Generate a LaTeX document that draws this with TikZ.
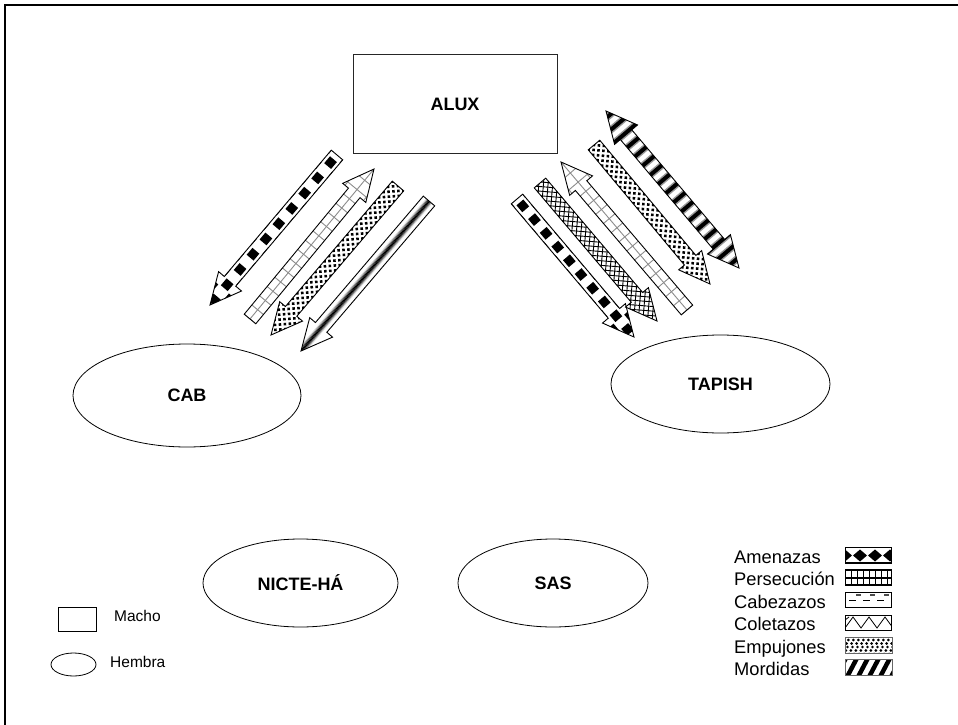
\documentclass[tikz,border=0pt]{standalone}
\usepackage{fontspec}
\setmainfont{Liberation Sans}
\usetikzlibrary{calc,shapes.geometric}

% block-arrow geometry (local frame: arrow runs along +x)
\newcommand\hw{7.5} % half shaft width
\newcommand\hh{15}  % half head width
\newcommand\hl{31}  % head length

% local frame from one named coordinate to another
\newcommand\arrowframe[2]{%
  \pgfpointdiff{\pgfpointanchor{#1}{center}}{\pgfpointanchor{#2}{center}}%
  \pgfgetlastxy{\adx}{\ady}%
  \pgfmathsetmacro\aang{atan2(\ady,\adx)}%
  \pgfmathsetmacro\alen{veclen(\adx,\ady)}%
}
\newcommand\singlepath{(0,-\hw) -- (\alen-\hl,-\hw) -- (\alen-\hl,-\hh) -- (\alen,0)
  -- (\alen-\hl,\hh) -- (\alen-\hl,\hw) -- (0,\hw) -- cycle}
\newcommand\doublepath{(0,0) -- (\hl,-\hh) -- (\hl,-\hw) -- (\alen-\hl,-\hw)
  -- (\alen-\hl,-\hh) -- (\alen,0) -- (\alen-\hl,\hh) -- (\alen-\hl,\hw)
  -- (\hl,\hw) -- (\hl,\hh) -- cycle}

% #1 from, #2 to, #3 outline path macro, #4 filling
\newcommand\blockarrow[4]{%
  \arrowframe{#1}{#2}%
  \begin{scope}[shift={(#1)}, rotate=\aang]
    \begin{scope}
      \clip #3;
      #4
    \end{scope}
    \draw[arrowline] #3;
  \end{scope}
}

% fillings drawn in the arrow's own frame
\newcommand\fillsquares[1]{%
  \foreach \i in {0,...,18}{%
    \fill ({\i*#1+#1/2-4.5},-4.5) rectangle +(9,9);
    \fill ({\i*#1-4.5},-16) rectangle +(9,9);
    \fill ({\i*#1-4.5},7) rectangle +(9,9);}}
\newcommand\fillladder{%
  \foreach \i in {0,...,24}{\draw[ladder] (\i*12,-20) -- (\i*12,20);}
  \foreach \y in {-12,0,12}{\draw[ladder] (-5,\y) -- (290,\y);}}
\newcommand\filldots{%
  \foreach \i in {0,...,42}{\foreach \j in {-3,...,2}{%
    \fill (\i*7,\j*7) circle (1.8);
    \fill (\i*7+3.5,\j*7+3.5) circle (1.8);}}}
\newcommand\fillmetal{%
  \foreach \y in {-16,...,15}{%
    \pgfmathtruncatemacro\k{max(0,100-max(0,abs(\y+0.5)-0.6)*30)}%
    \fill[black!\k] (-5,\y) rectangle (290,\y+1.05);}}
\newcommand\fillhatch{%
  \foreach \i in {-12,...,50}{%
    \draw[hatch] (\i*6.5,-18) -- ++(36,36);
    \draw[hatch] (\i*6.5,18) -- ++(36,-36);}}
\newcommand\fillbands{%
  \foreach \i in {0,...,26}{%
    \fill[black!40] (\i*12+2,-18) rectangle +(7,36);
    \fill (\i*12+3.5,-18) rectangle +(4,36);}}

\tikzset{
  labelfont/.style={font=\fontsize{18}{21}\selectfont\bfseries},
  malebox/.style={draw=black!85, line width=1pt, inner sep=0pt, labelfont},
  femalenode/.style={ellipse, draw, line width=0.8pt, inner sep=0pt, labelfont},
  arrowline/.style={draw=black, line width=0.9pt, line join=miter},
  ladder/.style={draw=black!45, line width=0.9pt},
  hatch/.style={draw=black, line width=0.9pt},
  legtext/.style={anchor=base west, inner sep=0pt, font=\fontsize{18.3}{21}\selectfont},
  keytext/.style={anchor=west, inner sep=0pt, font=\fontsize{15.5}{18}\selectfont},
  swatch/.style={draw, line width=0.8pt, minimum width=46, minimum height=15,
    inner sep=0pt, anchor=south west},
}

\begin{document}
\begin{tikzpicture}[x=1pt, y=-1pt]
\useasboundingbox (0,0) rectangle (958,725);
\fill[white] (0,0) rectangle (958,725);

% outer frame
\draw[line width=2pt] (958,5) -- (5,5) -- (5,725);

% individuals
\node[malebox, minimum width=204, minimum height=98] (alux) at (455,104) {ALUX};
\node[femalenode, minimum width=228, minimum height=103] (cab) at (187,395.5) {CAB};
\node[femalenode, minimum width=219, minimum height=98] (tapish) at (720.5,384) {TAPISH};
\node[femalenode, minimum width=195, minimum height=88] (nicte) at (300.5,583) {NICTE-HÁ};
\node[femalenode, minimum width=190, minimum height=88] (sas) at (553,583) {SAS};

% arrow end points
\coordinate (a1s) at (337,155); \coordinate (a1e) at (210,305);
\coordinate (a2s) at (250,319); \coordinate (a2e) at (374,169);
\coordinate (a3s) at (398,186); \coordinate (a3e) at (271,335);
\coordinate (a4s) at (429,201); \coordinate (a4e) at (301,351);
\coordinate (b1s) at (517,199); \coordinate (b1e) at (634,337);
\coordinate (b2s) at (540,183); \coordinate (b2e) at (657,321);
\coordinate (b3s) at (687,310); \coordinate (b3e) at (561,162);
\coordinate (b4s) at (594,145); \coordinate (b4e) at (710,284);
\coordinate (b5s) at (606,111); \coordinate (b5e) at (739,268);

% interactions ALUX - CAB
\blockarrow{a1s}{a1e}{\singlepath}{\fillsquares{20}}
\blockarrow{a2s}{a2e}{\singlepath}{\fillladder}
\blockarrow{a3s}{a3e}{\singlepath}{\filldots}
\blockarrow{a4s}{a4e}{\singlepath}{\fillmetal}

% interactions ALUX - TAPISH
\blockarrow{b1s}{b1e}{\singlepath}{\fillsquares{18}}
\blockarrow{b2s}{b2e}{\singlepath}{\fillhatch}
\blockarrow{b3s}{b3e}{\singlepath}{\fillladder}
\blockarrow{b4s}{b4e}{\singlepath}{\filldots}
\blockarrow{b5s}{b5e}{\doublepath}{\fillbands}

% sex key
\node[draw, line width=0.8pt, minimum width=38, minimum height=24, inner sep=0pt] (kmale) at (77,619) {};
\node[keytext] (kmaletext) at (114,616) {Macho};
\node[ellipse, draw, line width=0.8pt, minimum width=45, minimum height=23, inner sep=0pt] (kfemale) at (73.5,664.5) {};
\node[keytext] (kfemaletext) at (110,662) {Hembra};

% behaviour key
\node[legtext] (l1) at (734,563) {Amenazas};
\node[legtext] (l2) at (734,585.5) {Persecución};
\node[legtext] (l3) at (734,608) {Cabezazos};
\node[legtext] (l4) at (734,630.5) {Coletazos};
\node[legtext] (l5) at (734,653) {Empujones};
\node[legtext] (l6) at (734,675) {Mordidas};

\node[swatch] (s1) at (845,563) {};
\node[swatch, line width=1.3pt] (s2) at (845,585.5) {};
\node[swatch] (s3) at (845,608) {};
\node[swatch] (s4) at (845,630.5) {};
\node[swatch, draw=none] (s5) at (845,653) {};
\node[swatch, draw=none] (s6) at (845,675) {};

% swatch fillings
\begin{scope}
  \clip (s1.south west) rectangle (s1.north east);
  \foreach \x in {838,853,868,883,898}
    \fill (\x,555.5) -- ++(7,-6) -- ++(7,6) -- ++(-7,6) -- cycle;
\end{scope}
\draw[line width=0.8pt] (s1.south west) rectangle (s1.north east);

\begin{scope}
  \clip (s2.south west) rectangle (s2.north east);
  \foreach \x in {851.5,857.5,...,890}
    \draw[line width=1.3pt] (\x,570) -- (\x,586);
  \draw[line width=1.3pt] (845,578) -- (891,578);
\end{scope}

\begin{scope}
  \clip (s3.south west) rectangle (s3.north east);
  \foreach \x in {849,863,877}
    \draw[line width=1.3pt] (\x,600.5) -- ++(7,0);
  \foreach \x in {856,870,884}
    \draw[line width=1.2pt, black!70] (\x,595) -- ++(5,0);
\end{scope}

\begin{scope}
  \clip (s4.south west) rectangle (s4.north east);
  \draw[line width=0.8pt] (845,628) -- (853,617) -- (861,628) -- (869,617)
    -- (877,628) -- (885,617) -- (893,628);
  \draw[line width=0.8pt] (845,620) -- (849,617);
\end{scope}

\begin{scope}
  \clip (s5.south west) rectangle (s5.north east);
  \foreach \y [count=\r] in {640,643.5,647,650.5,654}
    \foreach \x in {845,850,...,895}
      \fill ({\x+mod(\r,2)*2.5+mod(\r,3)*0.8},\y) circle (1.45);
\end{scope}
\draw[line width=0.5pt, black!60] (s5.south west) rectangle (s5.north east);

\begin{scope}
  \clip (s6.south west) rectangle (s6.north east);
  \foreach \x in {836,847,...,892}
    \draw[line width=4.5pt] (\x,677) -- (\x+10,658);
\end{scope}
\draw[line width=0.5pt, black!60] (s6.south west) rectangle (s6.north east);

\end{tikzpicture}
\end{document}
